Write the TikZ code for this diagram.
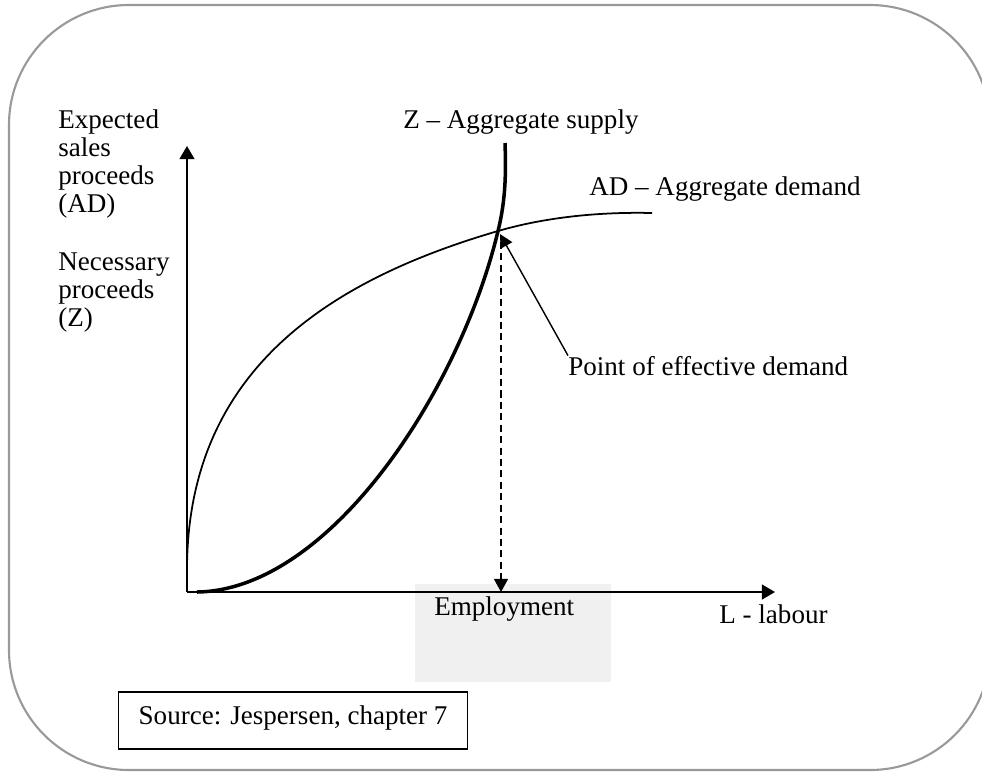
\documentclass[tikz,border=0pt]{standalone}
\usepackage{fontspec}
\setmainfont{Liberation Serif}
\usetikzlibrary{positioning}
\usetikzlibrary{calc}
\usetikzlibrary{arrows.meta}

\tikzset{
  lbl/.style={anchor=base west, inner sep=0pt, align=left, font=\fontsize{15.4}{15.9}\selectfont},
  axis/.style={line width=1.1pt, -{Triangle[length=7.5pt,width=8.5pt]}},
}

\begin{document}
\begin{tikzpicture}[x=0.02cm,y=-0.02cm]
            \clip (0,0) rectangle (982,772);
            \draw[line width=1.2pt, gray!80] (9,5) [rounded corners=2.4cm] rectangle (990,770);
            % shaded field under the employment label
            \fill[gray!12] (415,584) rectangle (611,682);
            \coordinate (O) at (187,592);
            \coordinate (Ytop) at (187,146);
            \coordinate (Xend) at (775,592);
            \coordinate (E) at (498,231);
            \coordinate (Etip) at (500,234);
            \coordinate (Edash) at (501,242);
            \draw[axis] (O) -- (Ytop);
            \draw[axis] (O) -- (Xend);
            \draw[line width=1pt] (187,570) coordinate (AD0) .. controls (187,370) and (330,280) .. (E)
                .. controls (553,215) and (610,212) .. (652,213) coordinate (AD1);
            \draw[line width=2pt] (197,592) coordinate (Z0) .. controls (330,590) and (460,390) .. (E)
                .. controls (506,199) and (506,170) .. (505,143) coordinate (Z1);
            \draw[line width=0.9pt, dash pattern=on 4pt off 2.5pt, -{Triangle[length=7.5pt,width=8pt]}] (Edash) -- (Edash |- O);
            \node[lbl] (Zlbl) at (403,128) {Z – Aggregate supply};
            \node[lbl] (ADlbl) at (589,195) {AD – Aggregate demand};
            % base of a multi-line node is its last line
            \node[lbl] (ylbl1) at (58,212) {Expected\\sales\\proceeds\\(AD)};
            \node[lbl] (ylbl2) at (58,326) {Necessary\\proceeds\\(Z)};
            \node[lbl] (pt) at (568,375) {Point of effective demand};
            \draw[line width=0.8pt, -{Triangle[length=7.5pt,width=7.5pt]}] (pt.north west) -- (Etip);
            \node[lbl] (emp) at (434,615) {Employment};
            \node[lbl] (xlbl) at (719,623) {L - labour};
            \node[lbl, draw, line width=0.8pt, inner xsep=0.4cm, text height=0.64cm, text depth=0.5cm] (src) at (118,724) {Source: Jespersen, chapter 7};
        \end{tikzpicture}
\end{document}
